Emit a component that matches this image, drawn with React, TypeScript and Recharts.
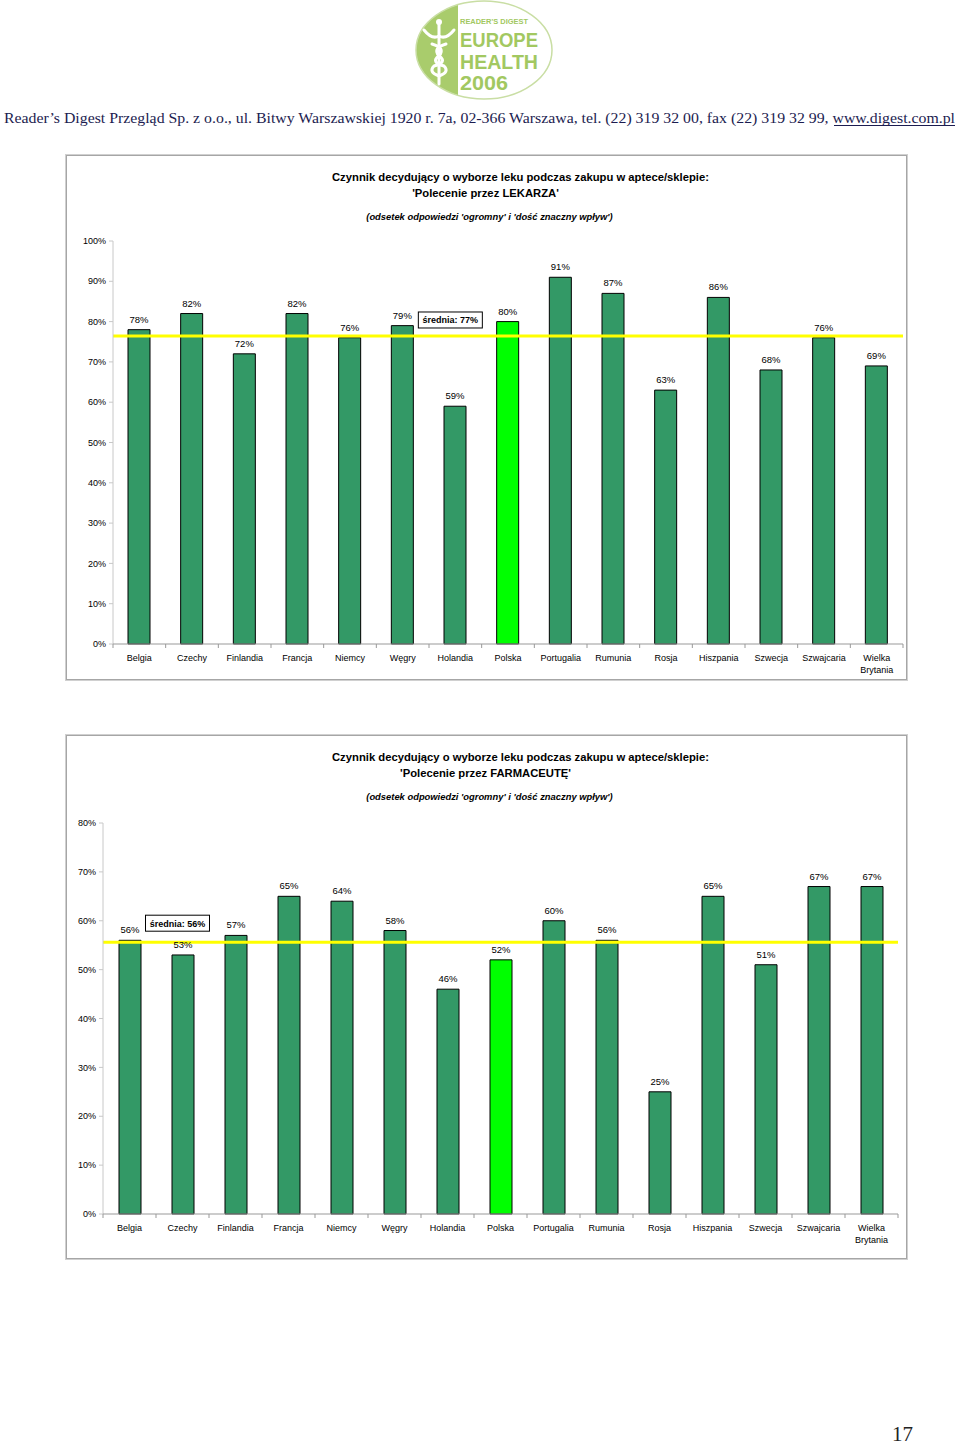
import React from "react";
import { BarChart, Bar, XAxis, YAxis, Cell, LabelList, ReferenceLine, ReferenceDot } from "recharts";

const countries = ["Belgia", "Czechy", "Finlandia", "Francja", "Niemcy", "Węgry", "Holandia", "Polska", "Portugalia", "Rumunia", "Rosja", "Hiszpania", "Szwecja", "Szwajcaria", "Wielka Brytania"];
const doctorValues = [78, 82, 72, 82, 76, 79, 59, 80, 91, 87, 63, 86, 68, 76, 69];
const pharmacistValues = [56, 53, 57, 65, 64, 58, 46, 52, 60, 56, 25, 65, 51, 67, 67];
const doctorTicks = [0, 10, 20, 30, 40, 50, 60, 70, 80, 90, 100];
const pharmacistTicks = [0, 10, 20, 30, 40, 50, 60, 70, 80];
const doctorAvg = 76.4;
const pharmacistAvg = 55.6;
const doctorAvgLabel = "średnia: 77%";
const pharmacistAvgLabel = "średnia: 56%";
const highlighted = "Polska";

const FONT = "Arial, 'Liberation Sans', sans-serif";
const BAR = "#339966";
const BAR_PL = "#00ff00";
const AVG_LINE = "#ffff00";

type Row = { name: string; value: number };
const toRows = (vals: number[]): Row[] => countries.map((name, i) => ({ name, value: vals[i] }));

function CountryTick(props: any) {
  const { x, y, payload, index, band } = props;
  const words: string[] = String(payload.value).split(" ");
  const left = x - band / 2;
  return (
    <g>
      <line x1={left} y1={y} x2={left} y2={y + 4} stroke="#999" />
      {index === countries.length - 1 && <line x1={x + band / 2} y1={y} x2={x + band / 2} y2={y + 4} stroke="#999" />}
      {words.map((w, i) => (
        <text key={i} x={x} y={y + 17 + i * 12} textAnchor="middle" fontSize={9} fontFamily={FONT} fill="#000">
          {w}
        </text>
      ))}
    </g>
  );
}

function AvgBox({ cx, cy, text }: any) {
  if (cx == null || cy == null) return null;
  const w = 64;
  const h = 16;
  const x = cx - 5 - w / 2;
  return (
    <g>
      <rect x={x} y={cy - h / 2} width={w} height={h} fill="#fff" stroke="#000" strokeWidth={1} />
      <text x={x + w / 2} y={cy + 3.5} textAnchor="middle" fontSize={9} fontWeight="bold" fontFamily={FONT} fill="#000">
        {text}
      </text>
    </g>
  );
}

type PanelProps = {
  top: number;
  height: number;
  chartTop: number;
  chartHeight: number;
  margin: { top: number; right: number; left: number; bottom: number };
  yWidth: number;
  values: number[];
  ticks: number[];
  avg: number;
  avgLabel: string;
  avgAt: string;
  avgY: number;
  subject: string;
};

function Panel(p: PanelProps) {
  const chartWidth = 841;
  const plotWidth = chartWidth - p.margin.left - p.margin.right - p.yWidth;
  const band = plotWidth / countries.length;
  const data = toRows(p.values);
  const max = p.ticks[p.ticks.length - 1];
  return (
    <>
      <div style={{ position: "absolute", left: 66, top: p.top, width: 839, height: p.height, border: "1px solid #a6a6a6", boxShadow: "0 0 0 1px #d0d0d0" }} />
      <div style={{ position: "absolute", left: 66, top: p.top + 14, width: 909, textAlign: "center", fontFamily: FONT, fontWeight: "bold", fontSize: 11.25, lineHeight: "16px", color: "#000", whiteSpace: "nowrap" }}>
        Czynnik decydujący o wyborze leku podczas zakupu w aptece/sklepie:
      </div>
      <div style={{ position: "absolute", left: 66, top: p.top + 30, width: 839, textAlign: "center", fontFamily: FONT, fontWeight: "bold", fontSize: 11.25, lineHeight: "16px", color: "#000", whiteSpace: "nowrap" }}>
        'Polecenie przez {p.subject}'
      </div>
      <div style={{ position: "absolute", left: 66, top: p.top + 56, width: 847, textAlign: "center", fontFamily: FONT, fontWeight: "bold", fontStyle: "italic", fontSize: 9.4, lineHeight: "12px", color: "#000", whiteSpace: "nowrap" }}>
        (odsetek odpowiedzi 'ogromny' i 'dość znaczny wpływ')
      </div>
      <div style={{ position: "absolute", left: 66, top: p.chartTop }}>
        <BarChart width={chartWidth} height={p.chartHeight} data={data} margin={p.margin} barSize={22}>
          <YAxis
            type="number"
            domain={[0, max]}
            ticks={p.ticks}
            interval={0}
            width={p.yWidth}
            tickFormatter={(v) => `${v}%`}
            tick={{ fontSize: 9, fontFamily: FONT, fill: "#000" }}
            tickSize={4}
            tickMargin={3}
            axisLine={{ stroke: "#c8c8c8" }}
            tickLine={{ stroke: "#c8c8c8" }}
          />
          <XAxis
            dataKey="name"
            interval={0}
            height={36}
            tickSize={0}
            tickMargin={0}
            axisLine={{ stroke: "#999" }}
            tickLine={false}
            tick={(t: any) => <CountryTick {...t} band={band} />}
          />
          <Bar dataKey="value" stroke="#000" strokeWidth={1} isAnimationActive={false}>
            {data.map((d) => (
              <Cell key={d.name} fill={d.name === highlighted ? BAR_PL : BAR} />
            ))}
            <LabelList dataKey="value" position="top" offset={7} formatter={(v: any) => `${v}%`} style={{ fontSize: 9.5, fontFamily: FONT, fill: "#000" }} />
          </Bar>
          <ReferenceLine y={p.avg} stroke={AVG_LINE} strokeWidth={3} ifOverflow="extendDomain" />
          <ReferenceDot x={p.avgAt} y={p.avgY} r={0} isFront shape={(s: any) => <AvgBox cx={s.cx} cy={s.cy} text={p.avgLabel} />} />
        </BarChart>
      </div>
    </>
  );
}

function Logo() {
  return (
    <svg style={{ position: "absolute", left: 412, top: 0 }} width={146} height={102}>
      <defs>
        <clipPath id="oval">
          <ellipse cx={72} cy={50} rx={68} ry={49} />
        </clipPath>
      </defs>
      <ellipse cx={72} cy={50} rx={68} ry={49} fill="#fff" />
      <rect x={0} y={0} width={46} height={102} fill="#a9cc6c" clipPath="url(#oval)" />
      <ellipse cx={72} cy={50} rx={68} ry={49} fill="none" stroke="#c9dea4" strokeWidth={1.5} />
      <g stroke="#fff" strokeWidth={3} fill="none" strokeLinecap="round">
        <line x1={27} y1={24} x2={27} y2={84} />
        <path d="M12 30 Q20 40 27 36 Q34 40 42 30" />
        <path d="M20 44 Q34 48 27 56 Q18 62 32 66 Q38 72 27 76" />
        <path d="M34 44 Q20 48 27 56 Q36 62 22 66 Q16 72 27 76" />
      </g>
      <circle cx={27} cy={22} r={3} fill="#fff" />
      <g fill="#a2c861" fontFamily="'Liberation Sans Narrow', 'Liberation Sans', Arial, sans-serif" fontWeight="bold">
        <text x={48} y={24} fontSize={8} textLength={68} lengthAdjust="spacingAndGlyphs">READER'S DIGEST</text>
        <text x={48} y={47} fontSize={20} textLength={78} lengthAdjust="spacingAndGlyphs">EUROPE</text>
        <text x={48} y={69} fontSize={20} textLength={78} lengthAdjust="spacingAndGlyphs">HEALTH</text>
        <text x={48} y={90} fontSize={20} textLength={48} lengthAdjust="spacingAndGlyphs">2006</text>
      </g>
    </svg>
  );
}

export default function App() {
  return (
    <div style={{ position: "absolute", left: 0, top: 0, width: 960, height: 1446, background: "#fff", overflow: "hidden" }}>
      <Logo />
      <svg style={{ position: "absolute", left: 0, top: 106 }} width={960} height={22}>
        <text x={4} y={17} fontSize={15} fontFamily="'Liberation Serif', 'DejaVu Serif', serif" fill="#1c1c50" textLength={951} lengthAdjust="spacingAndGlyphs">
          Reader’s Digest Przegląd Sp. z o.o., ul. Bitwy Warszawskiej 1920 r. 7a, 02-366 Warszawa, tel. (22) 319 32 00, fax (22) 319 32 99, www.digest.com.pl
        </text>
        <line x1={834} y1={19.5} x2={955} y2={19.5} stroke="#1c1c50" strokeWidth={1} />
      </svg>
      <Panel
        top={155}
        height={523}
        chartTop={231}
        chartHeight={459}
        margin={{ top: 10, right: 4, left: 7, bottom: 10 }}
        yWidth={40}
        values={doctorValues}
        ticks={doctorTicks}
        avg={doctorAvg}
        avgLabel={doctorAvgLabel}
        avgAt="Holandia"
        avgY={80.4}
        subject="LEKARZA"
      />
      <Panel
        top={735}
        height={522}
        chartTop={813}
        chartHeight={457}
        margin={{ top: 10, right: 9, left: 5, bottom: 20 }}
        yWidth={32}
        values={pharmacistValues}
        ticks={pharmacistTicks}
        avg={pharmacistAvg}
        avgLabel={pharmacistAvgLabel}
        avgAt="Czechy"
        avgY={59.5}
        subject="FARMACEUTĘ"
      />
      <div style={{ position: "absolute", left: 892, top: 1422, fontFamily: "'Liberation Serif', serif", fontSize: 21, color: "#222" }}>17</div>
    </div>
  );
}
